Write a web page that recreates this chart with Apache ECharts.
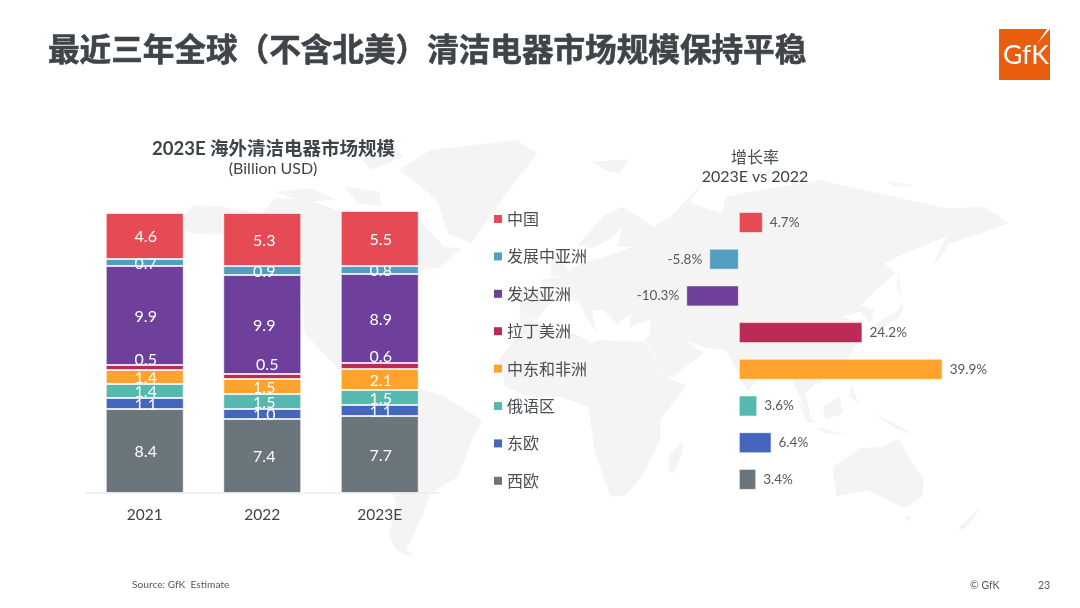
<!DOCTYPE html>
<html><head><meta charset="utf-8">
<style>html,body{margin:0;padding:0;background:#fff}#c{width:1080px;height:608px}</style>
<script src="https://cdn.jsdelivr.net/npm/echarts@6/dist/echarts.min.js"></script>
</head><body><div id="c"></div>
<script>
const years = ['2021','2022','2023E'];
// regions listed top of stack first, same order as the legend and the growth chart
const regions = ['中国','发展中亚洲','发达亚洲','拉丁美洲','中东和非洲','俄语区','东欧','西欧'];
const colors = ['#E64A54','#529EBE','#6E409B','#BB2B55','#FFA32E','#55B9B0','#4466BE','#6B767C'];
const china = [4.6,5.3,5.5];
const devAsia = [0.7,0.9,0.8];
const advAsia = [9.9,9.9,8.9];
const latam = [0.5,0.5,0.6];
const mea = [1.4,1.5,2.1];
const russian = [1.4,1.5,1.5];
const eastEu = [1.1,1.0,1.1];
const westEu = [8.4,7.4,7.7];
const growth = [4.7,-5.8,-10.3,24.2,39.9,3.6,6.4,3.4];

const stackValues = [china,devAsia,advAsia,latam,mea,russian,eastEu,westEu];
const FONT = 'Lato, "Noto Sans CJK SC", sans-serif';
const INK = '#3F4448';
const MAP = '#F4F4F4';

// decorative world-map backdrop, outlines
const k = 2.904;
const L = p => p.map(q => [q[0]/k, 120+q[1]/3]);
const R = p => p.map(q => [540+q[0]/k, 120+q[1]/3]);
const land = [
 L([[535,290],[560,255],[640,260],[760,280],[800,235],[900,240],[1000,280],[1060,330],[1216,300],[1290,380],[1340,385],[1280,440],[1230,450],[1190,510],[1216,520],[1130,600],[1100,690],[1010,680],[1000,760],[1110,810],[1216,805],[1290,830],[1400,900],[1370,960],[1330,1070],[1250,1120],[1230,1180],[1180,1290],[1200,1312],[1150,1290],[1130,1240],[1150,1150],[1100,1000],[1090,900],[1040,810],[990,755],[885,640],[875,490],[800,400],[650,345],[560,340],[535,330]]),
 L([[1160,150],[1250,90],[1500,60],[1560,100],[1470,220],[1370,370],[1300,340],[1270,240]]),
 L([[800,215],[900,205],[980,240],[880,245]]),
 L([[1000,200],[1100,215],[1110,260],[1040,250]]),
 L([[1050,120],[1150,80],[1170,110],[1080,150]]),
 R([[-70,500],[-58,525],[-60,590],[-10,600],[20,560],[60,535],[110,545],[135,590],[165,640],[150,570],[185,570],[225,615],[250,590],[265,580],[260,620],[320,600],[320,640],[305,660],[370,770],[385,770],[475,700],[420,660],[400,650],[470,680],[540,690],[575,760],[605,815],[650,750],[715,730],[740,800],[790,905],[770,820],[800,790],[820,790],[790,730],[890,720],[930,660],[935,610],[880,590],[930,575],[960,610],[970,570],[930,555],[1030,460],[1000,430],[1060,400],[1180,350],[1140,440],[1190,370],[1280,340],[1360,310],[1290,260],[1180,265],[1030,230],[850,190],[820,180],[640,210],[540,230],[530,280],[435,250],[470,190],[380,290],[330,320],[240,260],[190,285],[130,350],[110,375],[150,385],[200,360],[240,320],[225,380],[270,380],[190,410],[120,430],[60,470],[0,480],[10,510]]),
 R([[-55,590],[-5,605],[60,640],[100,640],[150,670],[170,660],[305,665],[370,775],[425,795],[350,900],[350,960],[300,1060],[250,1125],[205,1130],[160,1000],[140,860],[60,830],[-30,830],[-100,800],[-120,720],[-60,640]]),
 R([[410,965],[415,990],[390,1060],[375,1055],[375,1010]]),
 R([[850,1040],[930,985],[1000,980],[1040,955],[1075,1020],[1115,1080],[1110,1130],[1060,1165],[1010,1140],[950,1110],[860,1130]]),
 R([[1060,1185],[1080,1190],[1070,1205]]),
 R([[1280,1160],[1250,1190],[1210,1230],[1235,1225],[1270,1180]]),
 R([[50,400],[75,440],[90,465],[30,470],[35,420]]),
 R([[1060,540],[1040,570],[965,620],[980,632],[1045,590]]),
 R([[1040,450],[1050,530],[1035,500]]),
 R([[745,830],[800,910],[775,905]]),
 R([[820,860],[870,830],[880,880],[830,900]]),
 R([[800,920],[900,945],[830,940]]),
 R([[970,880],[1090,945],[1030,925]]),
 R([[905,790],[925,850],[900,830]]),
 R([[150,125],[260,118],[230,160],[190,150]]),
 R([[1010,185],[1090,195],[1030,200]])
].map(points => ({type:'polygon', silent:true, z:-10, shape:{points}, style:{fill:MAP}}));

const defaultOffsets = [[1,1],[2,1],[1,1]];
const labelOffsets = {'拉丁美洲':[[1,-8],[5,-12],[1,-9]]};
const stackSeries = regions.map((name,i) => ({i,name})).reverse().map(({i,name}) => ({
  name, type:'bar', stack:'market', xAxisIndex:0, yAxisIndex:0, barWidth:78,
  itemStyle:{color:colors[i], borderColor:'rgba(255,255,255,0.65)', borderWidth:1},
  data: stackValues[i].map((v,j) => ({
    value:v,
    label:{offset:(labelOffsets[name]||defaultOffsets)[j]}
  })),
  label:{show:true, position:'inside', color:'#fff', fontFamily:FONT, fontSize:16,
         formatter:p => p.value.toFixed(1)}
}));

const growthSeries = {
  name:'增长率', type:'bar', xAxisIndex:1, yAxisIndex:1, barWidth:21,
  data: growth.map((v,i) => ({
    value:v,
    itemStyle:{color:colors[i], borderColor:'rgba(255,255,255,0.55)', borderWidth:1},
    label:{position: v<0 ? 'left' : 'right'}
  })),
  label:{show:true, distance:7, color:'#54585C', fontFamily:FONT, fontSize:13.5,
         formatter:p => p.value.toFixed(1)+'%'}
};

const chart = echarts.init(document.getElementById('c'), null, {renderer:'canvas'});
chart.setOption({
  animation:false,
  backgroundColor:'#fff',
  title:[
    {text:'最近三年全球（不含北美）清洁电器市场规模保持平稳', left:48, top:33, padding:0,
     textStyle:{fontFamily:'"Noto Sans CJK SC", sans-serif', fontSize:31.6, fontWeight:'bold', color:INK, textBorderColor:INK, textBorderWidth:0.6}},
    {text:'2023E 海外清洁电器市场规模', left:273.5, top:140, padding:0, textAlign:'center',
     textStyle:{fontFamily:FONT, fontSize:18.5, fontWeight:'bold', color:INK}},
    {text:'(Billion USD)', left:273, top:161, padding:0, textAlign:'center',
     textStyle:{fontFamily:FONT, fontSize:16, fontWeight:'normal', color:INK}},
    {text:'增长率', left:755, top:150, padding:0, textAlign:'center',
     textStyle:{fontFamily:FONT, fontSize:16, fontWeight:'normal', color:'#4A4F53'}},
    {text:'2023E vs 2022', left:755, top:169, padding:0, textAlign:'center',
     textStyle:{fontFamily:FONT, fontSize:16, fontWeight:'normal', color:INK}}
  ],
  legend:{
    data:regions, orient:'vertical', left:494, top:211, padding:0, itemWidth:8, itemHeight:8, itemGap:21.4,
    icon:'rect', selectedMode:false,
    itemStyle:{borderWidth:0},
    textStyle:{fontFamily:'"Noto Sans CJK SC", sans-serif', fontSize:16, color:'#4A4F53'}
  },
  grid:[
    {left:86, top:193, width:352.5, height:300},
    {left:636.7, top:204.15, width:408.6, height:293.6}
  ],
  xAxis:[
    {type:'category', gridIndex:0, data:years,
     axisLine:{lineStyle:{color:'#EBEBEB', width:1.5}},
     axisTick:{length:5, lineStyle:{color:'#EBEBEB'}},
     axisLabel:{margin:14, fontFamily:FONT, fontSize:15.5, color:INK}},
    {type:'value', gridIndex:1, min:-20, max:60, show:false}
  ],
  yAxis:[
    {type:'value', gridIndex:0, min:0, max:30, show:false},
    {type:'category', gridIndex:1, data:regions, inverse:true, show:false}
  ],
  series:[...stackSeries, growthSeries],
  graphic:[
    ...land,
    {type:'rect', shape:{x:999,y:29,width:51,height:51}, style:{fill:'#E95D0F'}},
    {type:'polygon', shape:{points:[[1050,29],[1047,29],[1037,44]]}, style:{fill:'#fff'}},
    {type:'text', x:1003, y:42, style:{text:'GfK', fill:'#fff', fontFamily:'Lato', fontSize:26.5}},
    {type:'text', x:132, y:580, style:{text:'Source: GfK  Estimate', fill:'#55595D', fontFamily:'Lato', fontSize:10.2}},
    {type:'text', x:970, y:580, style:{text:'© GfK', fill:'#55595D', fontFamily:'Lato', fontSize:10.5}},
    {type:'text', x:1038, y:580, style:{text:'23', fill:'#55595D', fontFamily:'Lato', fontSize:10.5}}
  ]
});
</script></body></html>
